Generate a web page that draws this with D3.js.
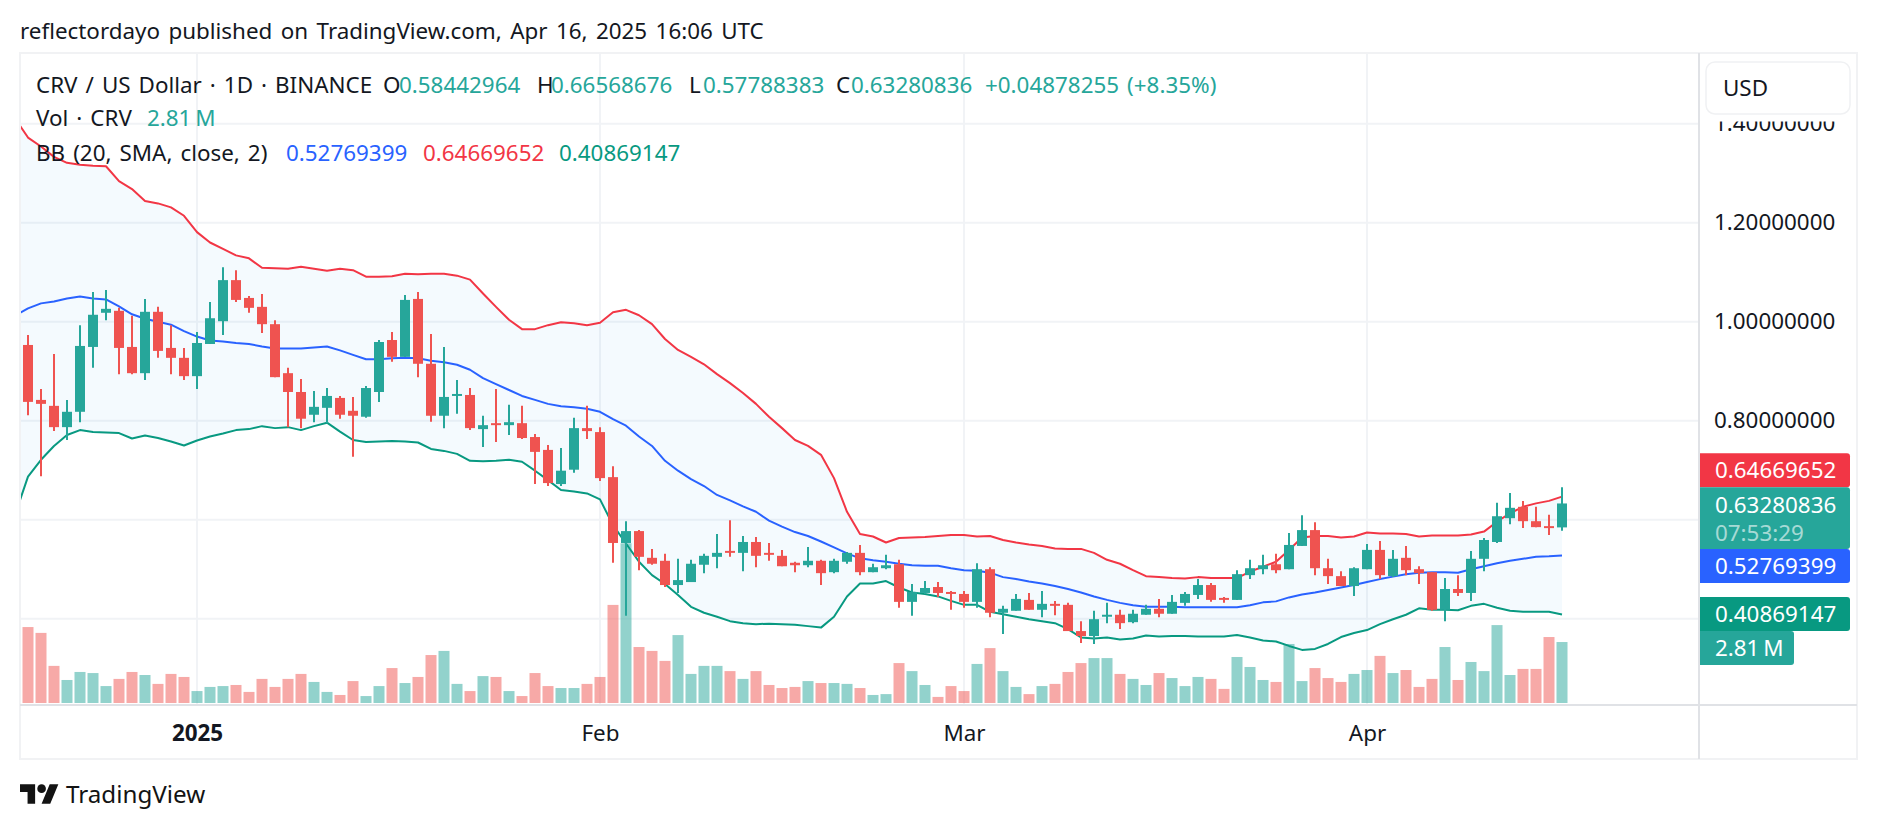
<!DOCTYPE html>
<html>
<head>
<meta charset="utf-8">
<title>CRV / US Dollar</title>
<script src="https://cdn.jsdelivr.net/npm/d3@7"></script>
<style>
  html, body { margin: 0; padding: 0; background: #fff; }
  svg { display: block; }
  text { font-family: "Noto Sans", sans-serif; fill: #131722; word-spacing: 2.2px; }
</style>
</head>
<body>
<svg id="chart" width="1878" height="830"></svg>
<script>
// Daily candles, first slot (18 Dec) has only its volume visible at the pane edge.
const firstDay = new Date(Date.UTC(2024, 11, 18));
const lastDay = new Date(Date.UTC(2025, 3, 16));

const opens = [null,
  .953,.842,.830,.787,.818,.949,1.018,1.022,.949,.896,1.020,.947,.927,
  .890,.955,1.001,1.084,1.048,1.030,.995,.896,.858,.812,.826,.846,.820,.808,.858,.963,.929,1.046,.915,.810,.850,.852,.783,.795,.791,.795,.767,.741,.672,.701,.785,
  .777,.686,.553,.577,.523,.517,.468,.474,.509,.525,.537,.533,.555,.533,.527,.513,.508,.517,.494,.515,.533,.494,.502,.510,.434,.452,.464,.454,
  .450,.434,.500,.412,.416,.438,.418,.430,.428,.375,.365,.404,.408,.393,.408,.420,.410,.432,.448,.468,.442,.438,.488,.500,.510,.500,.547,.579,.502,.486,.466,
  .500,.539,.486,.523,.500,.494,.418,.460,.452,.521,.555,.603,.626,.597,.587,.58442964];
const highs = [null,
  .973,.864,.935,.842,.993,1.060,1.064,1.028,1.012,1.046,1.030,.993,.947,
  .979,1.040,1.110,1.104,1.052,1.056,1.003,.907,.884,.860,.866,.850,.848,.870,.963,.979,1.054,1.060,.975,.949,.882,.866,.810,.864,.832,.830,.773,.751,.745,.806,.830,
  .787,.708,.597,.579,.541,.531,.521,.519,.531,.571,.599,.567,.565,.553,.539,.515,.545,.519,.521,.535,.549,.511,.529,.519,.470,.476,.474,.456,
  .456,.512,.504,.426,.450,.452,.456,.436,.432,.395,.416,.432,.418,.418,.428,.440,.448,.454,.480,.472,.444,.498,.519,.529,.531,.573,.609,.595,.521,.496,.504,
  .551,.557,.539,.547,.506,.494,.482,.488,.537,.563,.634,.654,.638,.626,.610,.66568676];
const lows = [null,
  .811,.688,.779,.761,.797,.907,1.003,.894,.894,.882,.927,.894,.882,
  .864,.955,.973,1.040,1.018,.977,.888,.787,.785,.797,.795,.804,.727,.806,.838,.919,.929,.888,.798,.785,.814,.781,.747,.757,.771,.763,.672,.668,.668,.695,.763,
  .678,.513,.406,.498,.509,.464,.452,.474,.492,.502,.525,.496,.504,.517,.506,.494,.504,.468,.492,.511,.488,.494,.500,.422,.406,.450,.444,.418,
  .422,.422,.403,.369,.416,.418,.403,.407,.375,.351,.349,.391,.379,.391,.408,.403,.410,.426,.440,.434,.432,.438,.480,.490,.492,.500,.547,.488,.470,.466,.446,
  .500,.480,.484,.488,.470,.416,.395,.446,.436,.496,.553,.591,.583,.585,.569,.57788383];
const closes = [null,
  .838,.834,.787,.818,.951,1.014,1.026,.947,.896,1.020,.941,.927,.890,
  .957,1.007,1.084,1.044,1.028,.995,.888,.858,.804,.828,.850,.812,.810,.866,.959,.929,1.044,.915,.810,.848,.854,.785,.791,.791,.797,.765,.737,.674,.699,.785,.779,
  .684,.553,.577,.525,.511,.468,.478,.511,.527,.533,.533,.555,.527,.529,.506,.508,.517,.492,.517,.533,.494,.504,.508,.434,.454,.462,.452,.450,
  .434,.500,.412,.420,.440,.418,.430,.426,.375,.365,.399,.408,.391,.410,.420,.410,.434,.450,.468,.438,.438,.490,.502,.508,.498,.549,.579,.502,.486,.466,.502,
  .539,.488,.521,.498,.492,.418,.460,.452,.521,.559,.607,.624,.597,.585,.583,.63280836];

// Traded volume in millions of CRV.
const volumes = [2.95,
  3.50,3.23,1.71,1.06,1.43,1.38,.78,1.11,1.43,1.29,.88,1.34,1.20,
  .55,.74,.78,.83,.51,1.11,.74,1.11,1.34,.97,.51,.37,1.01,.32,.78,1.61,.92,1.20,2.21,2.40,.88,.55,1.24,1.20,.55,.32,1.38,.78,.69,.69,.88,
  1.20,4.52,7.36,2.58,2.40,1.94,3.13,1.34,1.71,1.71,1.47,1.11,1.47,.83,.69,.74,1.01,.92,.92,.88,.69,.37,.41,1.84,1.47,.83,.28,.78,
  .55,1.80,2.53,1.47,.74,.41,.78,.88,1.43,1.84,2.07,2.07,1.34,1.11,.83,1.38,1.15,.78,1.20,1.11,.65,2.12,1.66,1.06,.97,2.72,1.01,1.61,1.15,.97,1.34,
  1.52,2.17,1.38,1.52,.74,1.11,2.58,1.06,1.89,1.47,3.59,1.29,1.57,1.57,3.04,2.81];

// Bollinger Bands (20, SMA, close, 2).
const bbBasis = [1.012,
  1.027,1.037,1.041,1.047,1.051,1.047,1.045,1.031,1.015,1.006,1.000,.994,.981,
  .970,.962,.960,.957,.955,.950,.946,.946,.946,.948,.950,.942,.933,.924,.924,.926,.927,.926,.921,.918,.913,.903,.886,.874,.862,.850,.842,.834,.829,.827,.824,
  .818,.803,.790,.768,.749,.719,.699,.682,.668,.650,.639,.627,.616,.598,.586,.575,.567,.556,.544,.532,.522,.518,.515,.511,.508,.507,.507,.502,
  .498,.497,.493,.484,.480,.475,.471,.466,.460,.453,.445,.438,.432,.427,.424,.424,.424,.423,.423,.423,.423,.423,.427,.433,.435,.443,.449,.453,.458,.463,.468,
  .474,.480,.485,.490,.493,.494,.494,.493,.500,.506,.512,.517,.521,.525,.526,.52769399];
const bbUpper = [1.411,
  1.372,1.354,1.333,1.321,1.317,1.315,1.314,1.284,1.268,1.244,1.239,1.231,1.214,
  1.181,1.160,1.147,1.134,1.128,1.109,1.108,1.107,1.111,1.107,1.103,1.107,1.104,1.091,1.091,1.092,1.097,1.096,1.097,1.097,1.093,1.085,1.057,1.030,1.004,.985,.985,.993,.999,.997,.993,
  .998,1.019,1.024,1.013,.995,.965,.943,.929,.914,.894,.876,.856,.834,.808,.785,.761,.749,.731,.684,.616,.571,.566,.554,.563,.564,.565,.567,.569,
  .569,.566,.567,.559,.554,.550,.547,.542,.541,.541,.533,.519,.511,.498,.486,.484,.482,.481,.484,.482,.482,.482,.495,.505,.515,.539,.564,.567,.567,.564,.566,
  .574,.572,.572,.571,.566,.568,.568,.568,.570,.576,.596,.613,.626,.633,.638,.64669652];
const bbLower = [.610,
  .687,.721,.749,.771,.781,.777,.776,.775,.764,.770,.765,.758,.750,
  .760,.768,.774,.781,.783,.789,.785,.787,.781,.789,.796,.778,.761,.757,.758,.759,.758,.756,.743,.739,.733,.719,.718,.719,.721,.717,.699,.680,.660,.657,.653,
  .641,.589,.552,.515,.488,.470,.448,.424,.412,.404,.395,.391,.389,.390,.389,.388,.385,.382,.404,.445,.471,.471,.476,.463,.453,.450,.445,.436,
  .428,.428,.414,.409,.404,.399,.395,.391,.379,.362,.360,.362,.358,.360,.366,.364,.365,.365,.364,.364,.364,.367,.362,.356,.354,.345,.337,.339,.349,.363,.371,
  .377,.389,.399,.408,.421,.418,.418,.417,.426,.430,.422,.416,.414,.414,.414,.40869147];

// Change of the last session against the prior close.
const lastChange = 0.04878255;
const lastChangePct = 8.35;

const gridPrices = [1.4, 1.2, 1.0, 0.8, 0.6, 0.4];
const priceLabels = [1.4, 1.2, 1.0, 0.8];
const monthTicks = [new Date(Date.UTC(2025, 0, 1)), new Date(Date.UTC(2025, 1, 1)), new Date(Date.UTC(2025, 2, 1)), new Date(Date.UTC(2025, 3, 1))];
const monthLabels = ["2025", "Feb", "Mar", "Apr"];

const days = d3.utcDay.range(firstDay, d3.utcDay.offset(lastDay, 1));

const UP = "#26a69a", DOWN = "#ef5350";
const BASIS = "#2962ff", UPPER = "#f23645", LOWER = "#089981";
const GRID = "#f1f3f6", FRAME = "#f1f2f4", DIVIDER = "#e0e2e6";
const FONT = "22.4px";

const pane = { left: 20, right: 1699, top: 53, bottom: 705, outerRight: 1857, outerBottom: 759 };

const x = d3.scaleUtc()
  .domain([new Date(Date.UTC(2025, 0, 1)), new Date(Date.UTC(2025, 3, 1))])
  .range([197, 1367]);
const y = d3.scaleLinear().domain([0.4, 1.0]).range([618.7, 321.7]);
const yVol = d3.scaleLinear().domain([0, 1]).range([703, 681.3]);

const svg = d3.select("#chart");
svg.append("defs").append("clipPath").attr("id", "pane-clip")
  .append("rect")
  .attr("x", pane.left).attr("y", pane.top)
  .attr("width", pane.right - pane.left).attr("height", pane.bottom - pane.top);

// Grid under everything in the pane.
const gridG = svg.append("g");
gridG.selectAll("line.h").data(gridPrices).join("line").attr("class", "h")
  .attr("x1", pane.left).attr("x2", pane.right)
  .attr("y1", d => y(d)).attr("y2", d => y(d))
  .attr("stroke", GRID).attr("stroke-width", 2);
gridG.selectAll("line.v").data(monthTicks).join("line").attr("class", "v")
  .attr("x1", d => x(d)).attr("x2", d => x(d))
  .attr("y1", pane.top).attr("y2", pane.bottom)
  .attr("stroke", GRID).attr("stroke-width", 2);

const plot = svg.append("g").attr("clip-path", "url(#pane-clip)");

const isUp = i => closes[i] > opens[i];

// Volume histogram along the pane bottom.
plot.append("g").selectAll("rect").data(days).join("rect")
  .attr("x", d => x(d) - 5.5).attr("width", 11)
  .attr("y", (d, i) => yVol(volumes[i]))
  .attr("height", (d, i) => yVol(0) - yVol(volumes[i]))
  .attr("fill", (d, i) => isUp(i) ? UP : DOWN)
  .attr("fill-opacity", 0.5);

// Bollinger envelope and its three lines.
const bandArea = d3.area()
  .x(d => x(d)).y0((d, i) => y(bbLower[i])).y1((d, i) => y(bbUpper[i]));
plot.append("path").datum(days).attr("d", bandArea)
  .attr("fill", "#2196f3").attr("fill-opacity", 0.05);

[[bbBasis, BASIS], [bbUpper, UPPER], [bbLower, LOWER]].forEach(([series, color]) => {
  const line = d3.line().x(d => x(d)).y((d, i) => y(series[i]));
  plot.append("path").datum(days).attr("d", line)
    .attr("fill", "none").attr("stroke", color).attr("stroke-width", 2)
    .attr("stroke-linejoin", "round");
});

// Candles: wick then body.
const candleDays = days.map((d, i) => ({ d, i })).filter(c => opens[c.i] !== null);
const candleG = plot.append("g");
candleG.selectAll("line").data(candleDays).join("line")
  .attr("x1", c => x(c.d)).attr("x2", c => x(c.d))
  .attr("y1", c => y(highs[c.i])).attr("y2", c => y(lows[c.i]))
  .attr("stroke", c => isUp(c.i) ? UP : DOWN).attr("stroke-width", 2);
candleG.selectAll("rect").data(candleDays).join("rect")
  .attr("x", c => x(c.d) - 5).attr("width", 10)
  .attr("y", c => y(Math.max(opens[c.i], closes[c.i])))
  .attr("height", c => Math.max(1.5, Math.abs(y(opens[c.i]) - y(closes[c.i]))))
  .attr("fill", c => isUp(c.i) ? UP : DOWN);

// Frame and pane dividers.
const frame = svg.append("g").attr("fill", "none");
frame.append("rect")
  .attr("x", pane.left).attr("y", pane.top)
  .attr("width", pane.outerRight - pane.left).attr("height", pane.outerBottom - pane.top)
  .attr("stroke", FRAME).attr("stroke-width", 2);
frame.append("line").attr("x1", pane.left).attr("x2", pane.outerRight)
  .attr("y1", pane.bottom).attr("y2", pane.bottom).attr("stroke", DIVIDER).attr("stroke-width", 2);
frame.append("line").attr("x1", pane.right).attr("x2", pane.right)
  .attr("y1", pane.top).attr("y2", pane.outerBottom).attr("stroke", DIVIDER).attr("stroke-width", 2);

// Price scale.
const priceAxis = d3.axisRight(y).tickValues(priceLabels).tickSize(0).tickPadding(15)
  .tickFormat(d3.format(".8f"));
const priceG = svg.append("g").attr("transform", `translate(${pane.right},0)`).call(priceAxis);
priceG.select(".domain").remove();
priceG.attr("font-family", null);
priceG.selectAll("text").style("font-size", FONT);

// Blank strip and currency button cover the top of the scale, cutting the highest label.
svg.append("rect").attr("x", 1700).attr("y", 54).attr("width", 156).attr("height", 67.5).attr("fill", "#fff");
svg.append("rect").attr("x", 1706).attr("y", 62).attr("width", 144).attr("height", 52).attr("rx", 9)
  .attr("fill", "#fff").attr("stroke", "#f0f1f3").attr("stroke-width", 1.5);
svg.append("text").attr("x", 1723).attr("y", 88).attr("dy", "0.35em").style("font-size", FONT).text("USD");

// Time scale.
const timeAxis = d3.axisBottom(x).tickValues(monthTicks).tickSize(0).tickPadding(0)
  .tickFormat((d, i) => monthLabels[i]);
const timeG = svg.append("g").attr("transform", "translate(0,733)").call(timeAxis);
timeG.select(".domain").remove();
timeG.attr("font-family", null);
timeG.selectAll("text").attr("dy", "0.35em").attr("y", 0)
  .style("font-size", FONT)
  .style("font-weight", (d, i) => i === 0 ? 700 : 400);

// Legend rows, each a run of coloured text pieces.
function legendRow(rowY, pieces) {
  pieces.forEach(p => {
    svg.append("text").attr("x", p[0]).attr("y", rowY).attr("dy", "0.35em")
      .style("font-size", FONT).style("fill", p[2] || "#131722")
      .style("word-spacing", p[3] || null).text(p[1]);
  });
}
const fmt8 = d3.format(".8f");
const n = days.length - 1;
legendRow(85, [
  [36, "CRV / US Dollar · 1D · BINANCE"],
  [383, "O"], [399, fmt8(opens[n]), UP],
  [537, "H"], [551, fmt8(highs[n]), UP],
  [689, "L"], [703, fmt8(lows[n]), UP],
  [836, "C"], [851, fmt8(closes[n]), UP],
  [985, "+" + fmt8(lastChange) + " (+" + lastChangePct + "%)", UP]
]);
legendRow(118, [
  [36, "Vol · CRV"], [147, volumes[n].toFixed(2) + " M", UP, "-2px"]
]);
legendRow(153, [
  [36, "BB (20, SMA, close, 2)"],
  [286, fmt8(bbBasis[n]), BASIS], [423, fmt8(bbUpper[n]), UPPER], [559, fmt8(bbLower[n]), LOWER]
]);

// Last-value tags on the price scale.
function priceTag(color, top, bottom, right) {
  svg.append("path")
    .attr("d", `M${pane.right + 1},${top}H${right - 3}a3,3 0 0 1 3,3V${bottom - 3}a3,3 0 0 1 -3,3H${pane.right + 1}Z`)
    .attr("fill", color);
}
function tagText(cy, str, opacity, spacing) {
  svg.append("text").attr("x", 1715).attr("y", cy).attr("dy", "0.35em")
    .style("font-size", FONT).style("fill", "#fff").style("fill-opacity", opacity || 1)
    .style("word-spacing", spacing || null).text(str);
}
priceTag(UPPER, 453.3, 487.3, 1850);
tagText(470, fmt8(bbUpper[n]));
priceTag(UP, 487.3, 549, 1850);
tagText(505, fmt8(closes[n]));
tagText(533, "07:53:29", 0.6);
priceTag(BASIS, 549, 583, 1850);
tagText(566, fmt8(bbBasis[n]));
priceTag(LOWER, 597, 631, 1850);
tagText(614, fmt8(bbLower[n]));
priceTag(UP, 631, 665, 1794);
tagText(648, volumes[n].toFixed(2) + " M", 1, "-2px");

// Publication line.
svg.append("text").attr("x", 20).attr("y", 31).attr("dy", "0.35em")
  .style("font-size", FONT).style("word-spacing", "2.6px")
  .text("reflectordayo published on TradingView.com, Apr 16, 2025 16:06 UTC");

// Footer mark.
const logo = svg.append("g").attr("transform", "translate(20,780) scale(1.08)").attr("fill", "#131313");
logo.append("path").attr("d", "M14 22H7V11H0V4h14v18zM28 22h-8l7.5-18h8L28 22z");
logo.append("circle").attr("cx", 20).attr("cy", 8).attr("r", 4);
svg.append("text").attr("x", 66).attr("y", 795).attr("dy", "0.35em")
  .style("font-size", "24.2px").style("fill", "#131313").text("TradingView");
</script>
</body>
</html>
